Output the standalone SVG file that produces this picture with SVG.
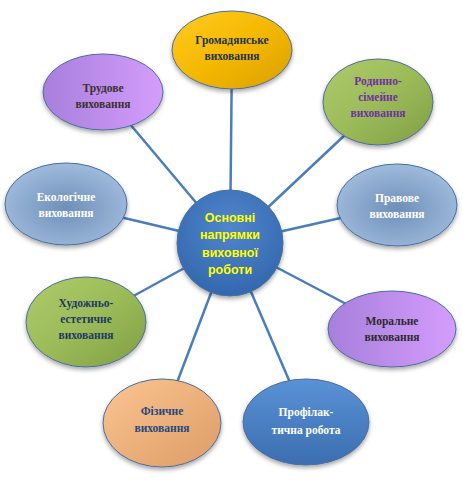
<svg xmlns="http://www.w3.org/2000/svg" width="463" height="480" viewBox="0 0 463 480">
<defs>
<filter id="sh" x="-20%" y="-20%" width="140%" height="150%">
<feDropShadow dx="0" dy="2.5" stdDeviation="2" flood-color="#000" flood-opacity="0.35"/>
</filter>
<linearGradient id="gYellow" x1="0" y1="0" x2="1" y2="1"><stop offset="0" stop-color="#ffcc22"/><stop offset="0.5" stop-color="#f5b800"/><stop offset="1" stop-color="#d9a000"/></linearGradient>
<linearGradient id="gGreen" x1="0" y1="0" x2="1" y2="1"><stop offset="0" stop-color="#aecb6a"/><stop offset="0.5" stop-color="#9bbb59"/><stop offset="1" stop-color="#809e44"/></linearGradient>
<linearGradient id="gPurple" x1="0" y1="0.5" x2="1" y2="0.5"><stop offset="0" stop-color="#a77fdc"/><stop offset="1" stop-color="#d49dfc"/></linearGradient>
<radialGradient id="gGrey" cx="0.5" cy="0.55" r="0.6"><stop offset="0" stop-color="#6f8fb8"/><stop offset="1" stop-color="#a3bfe0"/></radialGradient>
<linearGradient id="gPeach" x1="0" y1="0" x2="1" y2="1"><stop offset="0" stop-color="#fbc592"/><stop offset="1" stop-color="#dd9c66"/></linearGradient>
<linearGradient id="gBlue" x1="0" y1="0" x2="0" y2="1"><stop offset="0" stop-color="#5a92d6"/><stop offset="1" stop-color="#3b6eb0"/></linearGradient>
<radialGradient id="gCenter" cx="0.5" cy="0.35" r="0.65"><stop offset="0" stop-color="#4f86cc"/><stop offset="1" stop-color="#3468ae"/></radialGradient>
</defs>
<style>
.node{stroke:#4a6e9e;stroke-width:1;filter:url(#sh);}
.t{font-family:"Liberation Serif","DejaVu Serif",serif;font-weight:bold;font-size:11.5px;text-anchor:middle;}
.c{font-family:"Liberation Sans","DejaVu Sans",sans-serif;font-weight:bold;font-size:12.5px;text-anchor:middle;fill:#ffff00;}
.conn line{stroke:#4a7ebb;stroke-width:2.5;}
</style>
<g id="connectors" class="conn">
<line x1="230" y1="243" x2="103" y2="92"/>
<line x1="230" y1="243" x2="232" y2="52"/>
<line x1="230" y1="243" x2="380" y2="102"/>
<line x1="230" y1="243" x2="65" y2="204"/>
<line x1="230" y1="243" x2="398" y2="205"/>
<line x1="230" y1="243" x2="86" y2="322"/>
<line x1="230" y1="243" x2="392" y2="328"/>
<line x1="230" y1="243" x2="162" y2="422"/>
<line x1="230" y1="243" x2="307" y2="422"/>
</g>
<g id="n-trudove"><ellipse class="node" cx="103" cy="92" rx="60" ry="38" fill="url(#gPurple)"/>
<text class="t" x="103" y="92" fill="#3b2f2f">Трудове</text><text class="t" x="103" y="108" fill="#3b2f2f">виховання</text></g>
<g id="n-gromad"><ellipse class="node" cx="232" cy="50" rx="60" ry="39" fill="url(#gYellow)" stroke="#c9a030"/>
<text class="t" x="232" y="44" fill="#1f3350">Громадянське</text><text class="t" x="232" y="60" fill="#1f3350">виховання</text></g>
<g id="n-rodynno"><ellipse class="node" cx="378" cy="102" rx="55" ry="43" fill="url(#gGreen)"/>
<text class="t" x="378" y="85" fill="#7030a0">Родинно-</text><text class="t" x="378" y="101" fill="#7030a0">сімейне</text><text class="t" x="378" y="117" fill="#7030a0">виховання</text></g>
<g id="n-eco"><ellipse class="node" cx="66" cy="204" rx="61" ry="41" fill="url(#gGrey)"/>
<text class="t" x="66" y="201" fill="#ffffff">Екологічне</text><text class="t" x="66" y="217" fill="#ffffff">виховання</text></g>
<g id="n-pravove"><ellipse class="node" cx="397" cy="205" rx="60" ry="41" fill="url(#gGrey)"/>
<text class="t" x="397" y="202" fill="#ffffff">Правове</text><text class="t" x="397" y="218" fill="#ffffff">виховання</text></g>
<g id="n-khud"><ellipse class="node" cx="86" cy="322" rx="60" ry="45" fill="url(#gGreen)"/>
<text class="t" x="86" y="307" fill="#1f3864">Художньо-</text><text class="t" x="86" y="323" fill="#1f3864">естетичне</text><text class="t" x="86" y="339" fill="#1f3864">виховання</text></g>
<g id="n-moral"><ellipse class="node" cx="392" cy="329" rx="64" ry="38" fill="url(#gPurple)"/>
<text class="t" x="392" y="325" fill="#2b2b2b">Моральне</text><text class="t" x="392" y="341" fill="#2b2b2b">виховання</text></g>
<g id="n-fiz"><ellipse class="node" cx="162" cy="423" rx="59" ry="44" fill="url(#gPeach)"/>
<text class="t" x="162" y="415" fill="#1f497d">Фізичне</text><text class="t" x="162" y="432" fill="#1f497d">виховання</text></g>
<g id="n-profil"><ellipse class="node" cx="306" cy="422" rx="63" ry="43" fill="url(#gBlue)"/>
<text class="t" x="306" y="416" fill="#ffffff">Профілак-</text><text class="t" x="306" y="434" fill="#ffffff">тична робота</text></g>
<g id="n-center"><circle class="node" cx="230" cy="243" r="53" fill="url(#gCenter)"/>
<text class="c" x="230" y="222">Основні</text><text class="c" x="230" y="239">напрямки</text><text class="c" x="230" y="257">виховної</text><text class="c" x="230" y="274">роботи</text></g>
</svg>
